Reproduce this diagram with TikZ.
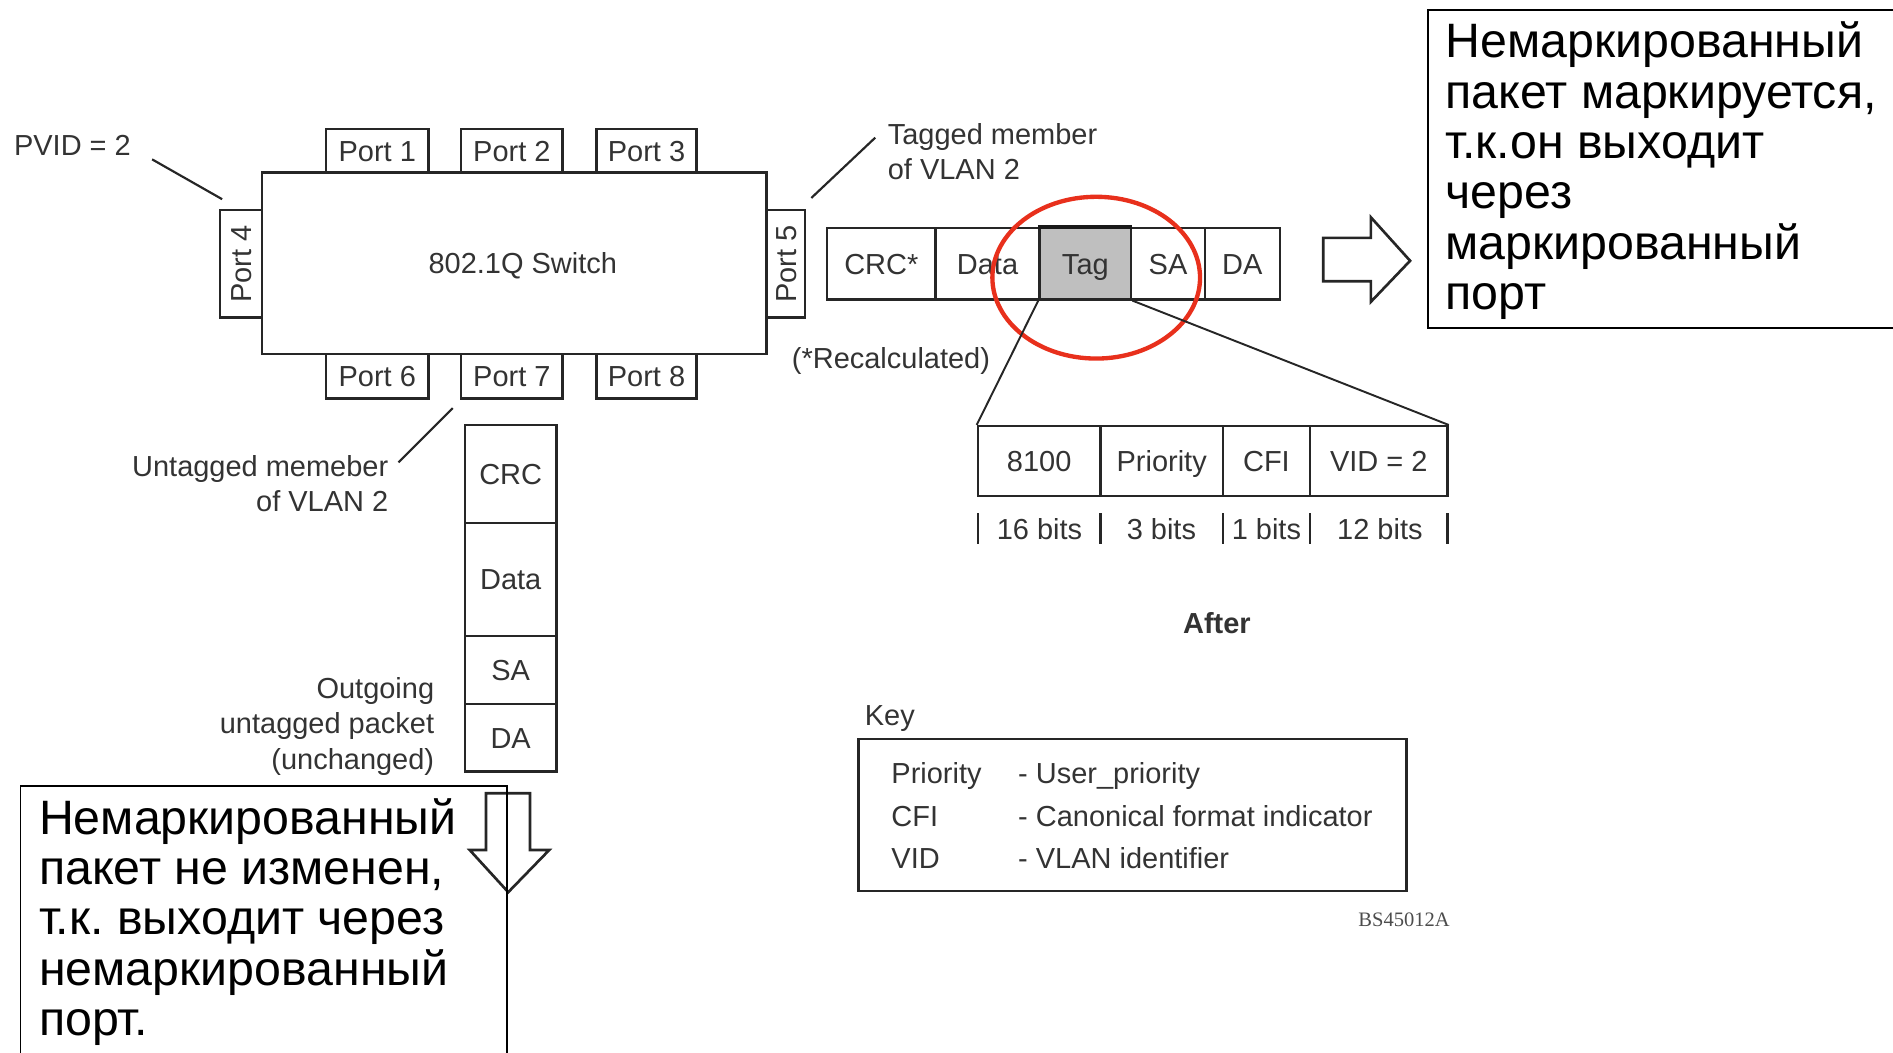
\documentclass[tikz,border=0pt]{standalone}
\usepackage{fontspec}
\setmainfont{Liberation Sans}
\newfontfamily\serifbs{Liberation Serif}
\definecolor{redc}{RGB}{232,48,28}
\begin{document}
\begin{tikzpicture}[x=0.5pt,y=-0.5pt,
  lbl/.style={font=\fontsize{12}{14.5}\selectfont, text=black!80, inner sep=0pt},
  lbla/.style={lbl, text height=8.6pt, text depth=0pt},
  cell/.style={draw=black!85, line width=1pt, inner sep=0pt, font=\fontsize{12}{14}\selectfont, text=black!80, text height=8.6pt, text depth=0pt},
  ru/.style={font=\fontsize{20}{20.8}\selectfont\frenchspacing, inner sep=0pt, anchor=base west},
  ln/.style={draw=black!85, line width=0.9pt},
  blk/.style={draw=black!85, line width=1.1pt, line join=miter},
  rubox/.style={draw=black, line width=0.8pt}]
\useasboundingbox (0,0) rectangle (1568,872);

% switch and ports
\node[cell, minimum width=42.5pt, minimum height=18pt] (p1) at (312.5,125) {Port 1};
\node[cell, minimum width=42pt, minimum height=18pt] (p2) at (424,125) {Port 2};
\node[cell, minimum width=41.5pt, minimum height=18pt] (p3) at (535.5,125) {Port 3};
\node[cell, minimum width=42.5pt, minimum height=18.5pt] (p6) at (312.5,311.5) {Port 6};
\node[cell, minimum width=42pt, minimum height=18.5pt] (p7) at (424,311.5) {Port 7};
\node[cell, minimum width=41.5pt, minimum height=18.5pt] (p8) at (535.5,311.5) {Port 8};
\node[cell, rotate=90, minimum width=44.5pt, minimum height=17.5pt] (p4) at (199.5,218.5) {Port 4};
\node[cell, rotate=90, minimum width=44.5pt, minimum height=16pt] (p5) at (651,218.5) {Port 5};
\node[cell, fill=white, minimum width=209pt, minimum height=75pt] (sw) at (426,218) {};
\node[lbla] (swl) at (433,218) {802.1Q Switch};

% PVID
\node[lbla] (pvid) at (60,120) {PVID = 2};
\coordinate (pv1) at (126,132);
\coordinate (pv2) at (184,165);
\draw[ln] (pv1) -- (pv2);

% tagged member
\node[lbl, anchor=west, align=left] (tagm) at (735,126) {Tagged member\\of VLAN 2};
\coordinate (tm1) at (725,114);
\coordinate (tm2) at (672,164);
\draw[ln] (tm1) -- (tm2);

% tagged packet
\node[cell, minimum width=45pt, minimum height=29.5pt] (crc) at (730,218.5) {CRC*};
\node[cell, minimum width=43pt, minimum height=29.5pt] (data) at (818,218.5) {Data};
\node[cell, fill=black!25, minimum width=38pt, minimum height=29.5pt] (tag) at (899,218.5) {Tag};
\node[cell, minimum width=30.5pt, minimum height=29.5pt] (sa) at (967.5,218.5) {SA};
\node[cell, minimum width=31pt, minimum height=29.5pt] (da) at (1029,218.5) {DA};
\draw[line width=2pt, black!90] (tag.north west) -- (tag.north east);

\node[lbla] (recalc) at (738,297) {(*Recalculated)};

% highlight ellipse
\draw[redc, line width=1.8pt] (908,230) ellipse [x radius=43pt, y radius=33.5pt];

% tag detail
\node[cell, minimum width=50.75pt, minimum height=29pt] (t1) at (860.75,382) {8100};
\node[cell, minimum width=50.75pt, minimum height=29pt] (t2) at (962.25,382) {Priority};
\node[cell, minimum width=36pt, minimum height=29pt] (t3) at (1049,382) {CFI};
\node[cell, minimum width=57pt, minimum height=29pt] (t4) at (1142,382) {VID = 2};
\draw[ln, line width=0.8pt] (tag.south west) -- (t1.north west);
\draw[ln, line width=0.8pt] (tag.south east) -- (t4.north east);

% bit widths
\foreach \xx in {810,911.5,1013,1085,1199} \draw[ln, line width=1pt] (\xx,425) -- (\xx,451);
\node[lbla] (b1) at (861,438) {16 bits};
\node[lbla] (b2) at (962,438) {3 bits};
\node[lbla] (b3) at (1049,438) {1 bits};
\node[lbla] (b4) at (1143,438) {12 bits};

\node[lbla, font=\fontsize{12}{14}\selectfont\bfseries] (after) at (1008,516) {After};

% key
\node[lbla, anchor=west] (keyl) at (716,592) {Key};
\node[cell, minimum width=227pt, minimum height=63pt] (keybox) at (938,675) {};
\node[lbla, anchor=west] (k1) at (738,640) {Priority};
\node[lbla, anchor=west] (k2) at (738,676) {CFI};
\node[lbla, anchor=west] (k3) at (738,711) {VID};
\node[lbla, anchor=west] (d1) at (843,640) {- User\_priority};
\node[lbla, anchor=west] (d2) at (843,676) {- Canonical format indicator};
\node[lbla, anchor=west] (d3) at (843,711) {- VLAN identifier};
\node[inner sep=0pt, font=\serifbs\fontsize{8.5}{10}\selectfont, text=black!70] (bs) at (1163,762) {BS45012A};

% untagged packet
\node[cell, minimum width=38pt, minimum height=40.5pt] (vcrc) at (423,392.5) {CRC};
\node[cell, minimum width=38pt, minimum height=47pt] (vdata) at (423,480) {Data};
\node[cell, minimum width=38pt, minimum height=28pt] (vsa) at (423,555) {SA};
\node[cell, minimum width=38pt, minimum height=28pt] (vda) at (423,611) {DA};

\node[lbl, anchor=east, align=right] (um) at (322,401) {Untagged memeber\\of VLAN 2};
\coordinate (um1) at (375,338);
\coordinate (um2) at (330,383);
\draw[ln] (um1) -- (um2);

\node[lbl, font=\fontsize{12}{14.75}\selectfont, anchor=east, align=right] (og) at (360,601.5) {Outgoing\\untagged packet\\(unchanged)};

% block arrows
\draw[blk] (402.5,657) -- (439,657) -- (439,704) -- (455,704) -- (421,739) -- (389,704) -- (402.5,704) -- cycle;
\draw[blk] (1096,197) -- (1135.5,197) -- (1135.5,180) -- (1168,216) -- (1135.5,250) -- (1135.5,233) -- (1096,233) -- cycle;

% russian callouts
\draw[rubox] (1568,8) -- (1183,8) -- (1183,272) -- (1568,272);
\node[ru] (rtext) at (1197,48) {\begin{tabular}[t]{@{}l@{}}Немаркированный\\пакет маркируется,\\т.к.он выходит\\через\\маркированный\\порт\end{tabular}};

\draw[rubox] (17,872) -- (17,651) -- (420,651) -- (420,872);
\node[ru] (ltext) at (32,691) {\begin{tabular}[t]{@{}l@{}}Немаркированный\\пакет не изменен,\\т.к. выходит через\\немаркированный\\порт.\end{tabular}};
\end{tikzpicture}
\end{document}
